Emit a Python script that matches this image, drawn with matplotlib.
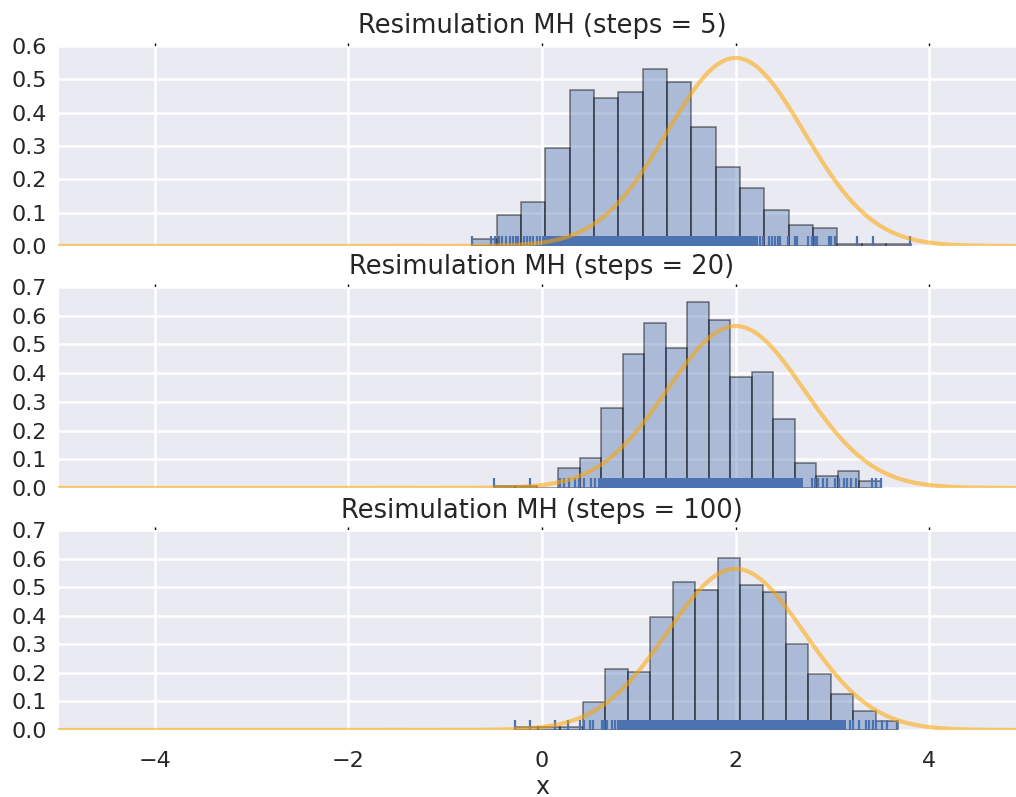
import numpy as np
import matplotlib.pyplot as plt
import matplotlib.transforms as mtransforms
import seaborn as sns

sns.set_style("darkgrid")
plt.rcParams['font.family'] = ['DejaVu Sans']
plt.rcParams['grid.linewidth'] = 1.8

# ---------------------
# --- Data section ---
# ---------------------

titles = ["Resimulation MH (steps = 5)",
          "Resimulation MH (steps = 20)",
          "Resimulation MH (steps = 100)"]

# histogram bins (left edge, width) and density heights
bin_start = [-0.72, -0.496, -0.279]
bin_width = [0.2515, 0.222, 0.2329]

heights_5 = [0.022, 0.094, 0.132, 0.294, 0.468, 0.444, 0.461, 0.532, 0.492,
             0.356, 0.237, 0.173, 0.109, 0.062, 0.053, 0.005, 0.005, 0.005]
heights_20 = [0.006, 0.006, 0.0, 0.070, 0.106, 0.278, 0.467, 0.576, 0.487,
              0.649, 0.585, 0.386, 0.403, 0.240, 0.086, 0.042, 0.060, 0.023]
heights_100 = [0.012, 0.012, 0.012, 0.099, 0.212, 0.204, 0.394, 0.517, 0.490,
               0.603, 0.508, 0.482, 0.300, 0.195, 0.126, 0.065, 0.032]

# rug: isolated samples and the dense stretch where ticks merge into a band
rug_5 = [-0.72, -0.53, -0.49, -0.44, -0.41, -0.37, -0.33, -0.30, -0.27, -0.25,
         -0.19, -0.16, -0.12, -0.09, -0.05, -0.02, 2.25, 2.28, 2.35, 2.38,
         2.41, 2.44, 2.46, 2.54, 2.61, 2.63, 2.75, 2.79, 2.82, 2.84, 2.96,
         2.99, 3.03, 3.25, 3.42, 3.80]
rug_band_5 = (0.0, 2.23)
rug_20 = [-0.50, -0.12, 0.19, 0.23, 0.28, 0.34, 0.38, 0.43, 0.51, 0.55,
          2.79, 2.82, 2.85, 2.90, 2.94, 3.03, 3.07, 3.12, 3.15, 3.19, 3.24,
          3.41, 3.45, 3.50]
rug_band_20 = (0.58, 2.70)
rug_100 = [-0.28, -0.12, 0.13, 0.27, 0.39, 0.43, 0.50, 0.53, 0.62, 0.64,
           0.67, 0.72, 0.75, 0.78, 3.18, 3.21, 3.27, 3.35, 3.38, 3.42, 3.45,
           3.51, 3.56, 3.67]
rug_band_100 = (0.80, 3.14)

# target density: normal with mean 2, variance 0.5
target_mean = 2.0
target_sd = np.sqrt(0.5)

heights = [heights_5, heights_20, heights_100]
rugs = [rug_5, rug_20, rug_100]
bands = [rug_band_5, rug_band_20, rug_band_100]
ytops = [0.6, 0.7, 0.7]

# ----------------
# --- Plotting ---
# ----------------

fig = plt.figure(figsize=(10.16, 7.97), dpi=100)
W, H = 1016.0, 797.0
panel_px = [(46, 246), (287, 488), (530, 730)]
left, right = 58, 1026

xs = np.linspace(-5, 5, 600)
pdf = np.exp(-0.5 * ((xs - target_mean) / target_sd) ** 2) / (target_sd * np.sqrt(2 * np.pi))

blue = "#4C72B0"
axes = []
for i in range(3):
    top, bot = panel_px[i]
    ax = fig.add_axes([left / W, 1 - bot / H, (right - left) / W, (bot - top) / H])
    axes.append(ax)

    h = heights[i]
    edges = bin_start[i] + bin_width[i] * np.arange(len(h))
    ax.bar(edges, h, width=bin_width[i], align='edge', color=(0.298, 0.447, 0.69, 0.4),
           edgecolor=(0, 0, 0, 0.5), linewidth=1.1, zorder=2)

    trans = mtransforms.blended_transform_factory(ax.transData, ax.transAxes)
    ax.vlines(rugs[i], 0, 0.05, transform=trans, color=blue, lw=1.6, zorder=3)
    ax.axvspan(bands[i][0], bands[i][1], ymin=0, ymax=0.05, color=blue, lw=0, zorder=3)

    ax.plot(xs, pdf, color='orange', alpha=0.55, lw=3, zorder=4)

    ax.set_xlim(-5, 5)
    ax.set_ylim(0, ytops[i])
    ax.set_yticks(np.arange(0, ytops[i] + 0.01, 0.1))
    ax.set_yticklabels(["%.1f" % v for v in np.arange(0, ytops[i] + 0.01, 0.1)])
    ax.set_xticks([-4, -2, 0, 2, 4])
    ax.tick_params(axis='both', labelsize=16, length=2, width=1, color='black',
                   top=True, right=True)
    ax.tick_params(axis='y', pad=6)
    ax.tick_params(axis='x', pad=13)
    ax.set_title(titles[i], fontsize=18.5, color='#262626', pad=9)
    if i < 2:
        ax.tick_params(labelbottom=False)

axes[-1].set_xlabel('x', fontsize=17, color='#262626', labelpad=3)

plt.savefig("out.png", dpi=100)
